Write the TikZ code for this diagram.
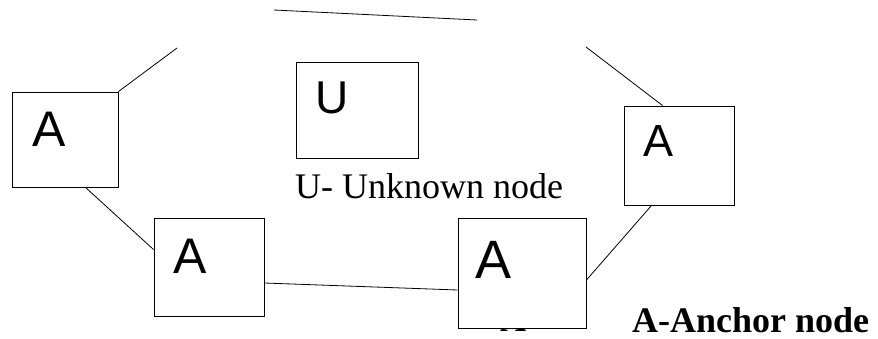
\documentclass[tikz,border=0pt]{standalone}
\usepackage{fontspec}
\setmainfont{Liberation Serif}
\newfontfamily\sansA{Liberation Sans}
\usetikzlibrary{shadows,calc}
\begin{document}
\begin{tikzpicture}[x=1pt,y=-1pt,
  nodebox/.style={draw=black,line width=0.9pt,fill=white,inner sep=0pt,
    drop shadow={shadow xshift=1.3pt,shadow yshift=-1.3pt,fill=gray!85,opacity=1}},
  letter/.style={anchor=base west,inner sep=0pt,font=\sansA},
  caption/.style={anchor=base west,inner sep=0pt},
  link/.style={draw=black,line width=0.8pt}]
\useasboundingbox (0,0) rectangle (878,338);
% hidden bold letter behind box 4
\node[caption,font=\fontsize{36}{40}\selectfont\bfseries] (hid) at (500,331) {A};
% boxes
\node[nodebox,minimum width=106pt,minimum height=95pt] (a1) at (65,139.5) {};
\node[nodebox,minimum width=110pt,minimum height=98pt] (a2) at (209,267) {};
\node[nodebox,minimum width=122pt,minimum height=96pt] (u) at (357,110) {};
\node[nodebox,minimum width=128pt,minimum height=110pt] (a4) at (522,273) {};
\node[nodebox,minimum width=110pt,minimum height=99pt] (a5) at (679,155.5) {};
% letters
\node[letter,font=\sansA\fontsize{50}{56}\selectfont] (l1) at (32,146) {A};
\node[letter,font=\sansA\fontsize{50}{56}\selectfont] (l2) at (173,273) {A};
\node[letter,font=\sansA\fontsize{46}{52}\selectfont] (lu) at (315,113) {U};
\node[letter,font=\sansA\fontsize{54}{60}\selectfont] (l4) at (475,278) {A};
\node[letter,font=\sansA\fontsize{45}{50}\selectfont] (l5) at (643,156) {A};
% captions
\node[caption,font=\fontsize{36}{40}\selectfont] (cu) at (295,198) {U- Unknown node};
\node[caption,font=\fontsize{36}{40}\selectfont\bfseries] (ca) at (632,332) {A-Anchor node};
% free ends
\coordinate (f1) at (177,48);
\coordinate (t1) at (274,10);
\coordinate (t2) at (477,20);
\coordinate (f5) at (586,47);
% connectors
\draw[link] (a1.north east) -- (f1);
\draw[link] (t1) -- (t2);
\draw[link] (f5) -- ([xshift=39pt]a5.north west);
\draw[link] ([xshift=74pt]a1.south west) -- ([yshift=-32pt]a2.north west);
\draw[link] ([yshift=-16pt]a2.east) -- ([yshift=-17pt]a4.west);
\draw[link] ([yshift=-7pt]a4.east) -- ([xshift=28pt]a5.south west);
\end{tikzpicture}
\end{document}
